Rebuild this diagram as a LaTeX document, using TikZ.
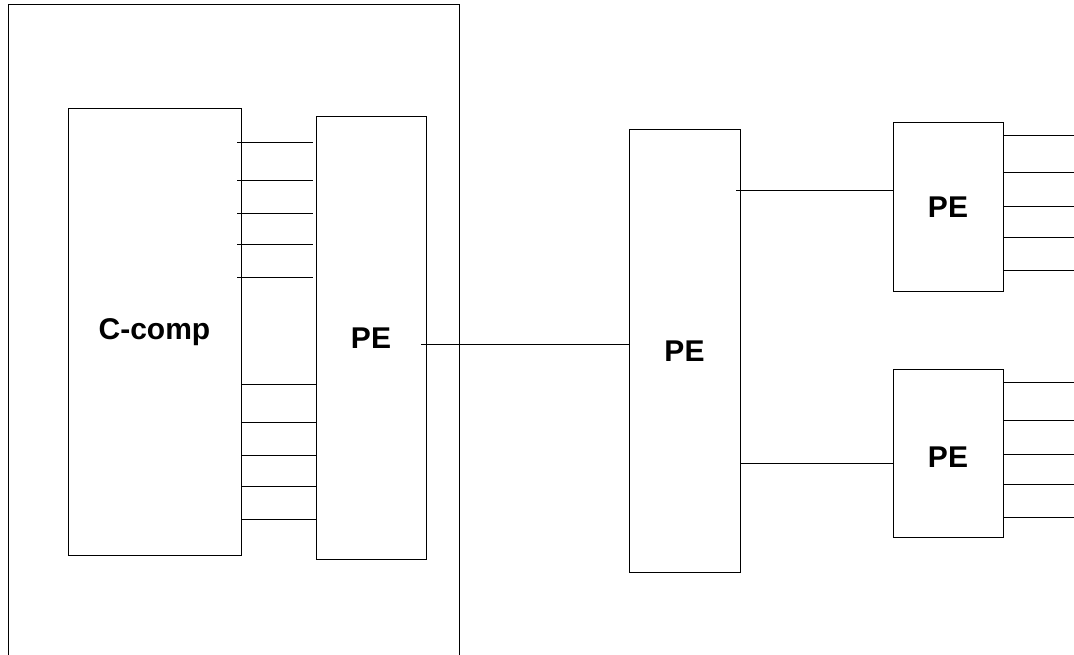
\documentclass[tikz,border=0pt]{standalone}
\usepackage{fontspec}
\setmainfont{Liberation Sans}
\usepackage{tikz}
\usetikzlibrary{positioning,calc}

\begin{document}
\begin{tikzpicture}[x=1pt,y=-1pt,line width=1pt,every node/.style={block},
        block/.style={draw,rectangle,inner sep=0pt,outer sep=0pt,
          font=\bfseries\fontsize{30}{36}\selectfont}]
   \useasboundingbox (0,0) rectangle (1074,655);
   % outer frame, open at the bottom
   \draw (8,655) |- (459,5) -- (459,655);

   \node (C) [minimum width=173pt,minimum height=446pt] at (154.5,332) {C-comp};
   \node (P) [minimum width=110pt,minimum height=442pt] at (371,338) {PE};

   \node (Q) [minimum width=111pt,minimum height=442pt] at (684.5,351) {PE};
   \node (R) [minimum width=110pt,minimum height=168pt] at (948,207) {PE};
   \node (S) [minimum width=110pt,minimum height=168pt,text height=28pt] at (948,453) {PE};
   \coordinate (rim) at (1074,0);

   \foreach \y in {143,181,214,245,278}
     \draw ([xshift=-4pt]C.east |- 0,\y) -- ([xshift=-3pt]P.west |- 0,\y);
   \foreach \y in {384,422,455,486,519}
     \draw (C.east |- 0,\y) -- (P.west |- 0,\y);

   \draw ([xshift=-5pt]P.east |- 0,344) -- (Q.west |- 0,344);
   \draw ([xshift=-4pt]Q.east |- 0,191) -- (R.west |- 0,191);
   \draw (Q.east |- 0,463) -- (S.west |- 0,463);

   \foreach \y in {136,173,207,238,271}
     \draw (R.east |- 0,\y) -- (rim |- 0,\y);
   \foreach \y in {382,420,454,484,517}
     \draw (S.east |- 0,\y) -- (rim |- 0,\y);
\end{tikzpicture}
\end{document}
